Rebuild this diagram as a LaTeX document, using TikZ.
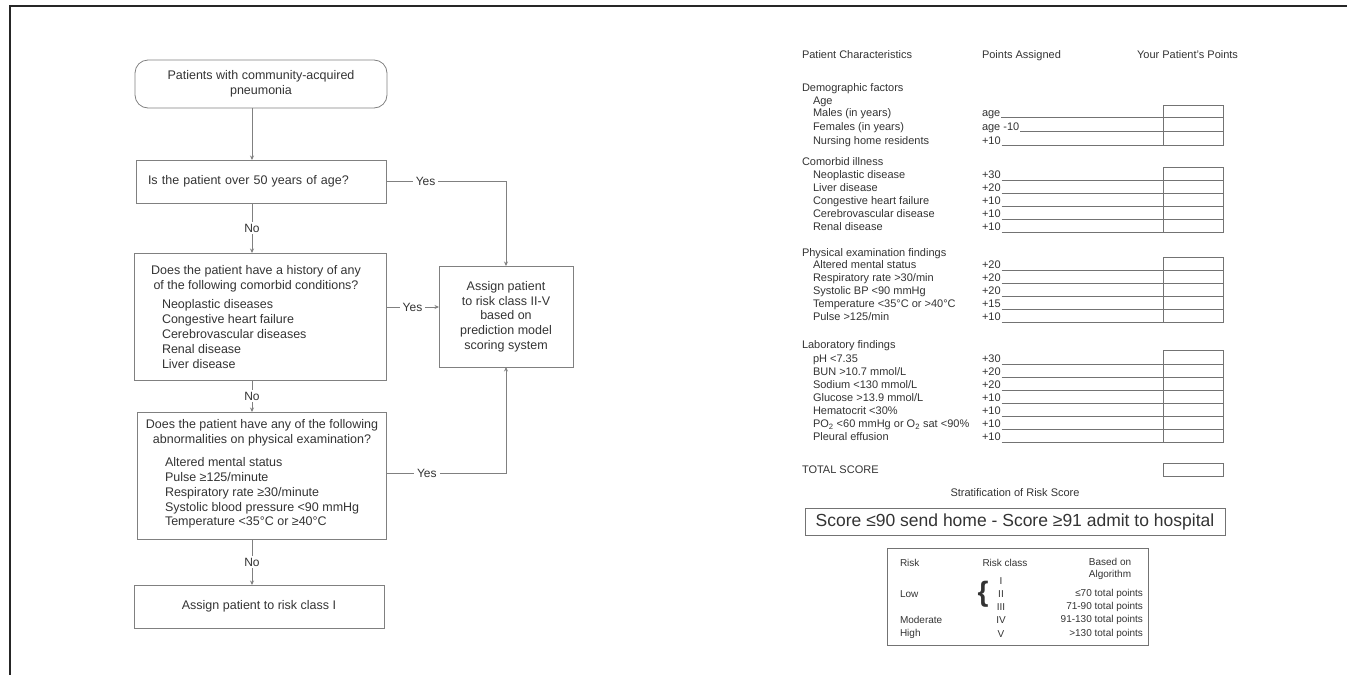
\documentclass[tikz,border=0pt]{standalone}
\usepackage{fontspec}
\setmainfont{Liberation Sans}
\usetikzlibrary{arrows.meta}
\newcommand\psisect[5]{%
  \foreach \lab/\pts [count=\i] in {#5}{%
    \pgfmathsetmacro\yb{#3+(\i-1)*#4}%
    \node[tt,anchor=base west] (#1l\i) at (813,\yb) {\lab};
    \node[tt,anchor=base west] (#1p\i) at (982,\yb) {\pts};
    \draw[tline] ([xshift=1pt,yshift=-1.5pt]#1p\i.base east) -- (1223,\yb+1.5);
    \xdef\lasty{\yb}%
  }%
  \draw[tline] (1163,#2) rectangle (1223,\lasty+1.5);
}
\begin{document}
\begin{tikzpicture}[x=1pt,y=-1pt,
  every node/.style={text=black!80,inner sep=0pt,outer sep=0pt},
  fbox/.style={draw=black!50,line width=0.8pt},
  ft/.style={font=\fontsize{12.5}{14.7}\selectfont},
  lt/.style={font=\fontsize{12.5}{14.8}\selectfont},
  arr/.style={draw=black!50,line width=0.8pt,-{Stealth[length=4.5pt,width=4pt]}},
  lbl/.style={fill=white,inner xsep=3pt,inner ysep=2pt,font=\fontsize{12}{14}\selectfont},
  tt/.style={font=\fontsize{11}{13}\selectfont},
  tline/.style={draw=black!55,line width=0.7pt},
  rt/.style={font=\fontsize{10}{12}\selectfont}]
\useasboundingbox (0,0) rectangle (1347,675);
\draw[line width=1.4pt,black!85] (1347,6) -- (10,6) -- (10,675);

% ---------------- flowchart ----------------
\node[fbox,ft,rounded corners=13pt,minimum width=252pt,minimum height=48pt,align=center] (start) at (261,84)
  {Patients with community-acquired\\pneumonia};
\node[fbox,ft,minimum width=250pt,minimum height=43pt,text width=226pt,inner xsep=12pt,align=left] (q1) at (261,181.5)
  {Is the patient over 50 years of age?};
\node[fbox,minimum width=252pt,minimum height=127pt] (q2) at (260,316.5) {};
\node[ft,align=center] (q2h) at (256,279) {Does the patient have a history of any\\of the following comorbid conditions?};
\node[lt,align=left,anchor=west] (q2l) at (162,334) {Neoplastic diseases\\Congestive heart failure\\Cerebrovascular diseases\\Renal disease\\Liver disease};
\node[fbox,minimum width=249pt,minimum height=127pt] (q3) at (261.5,475.5) {};
\node[ft,align=center] (q3h) at (262,433) {Does the patient have any of the following\\abnormalities on physical examination?};
\node[lt,align=left,anchor=west] (q3l) at (165,493) {Altered mental status\\Pulse ≥125/minute\\Respiratory rate ≥30/minute\\Systolic blood pressure <90 mmHg\\Temperature <35°C or ≥40°C};
\node[fbox,ft,minimum width=250pt,minimum height=43pt] (r1) at (259,606.5) {Assign patient to risk class I};
\node[fbox,ft,minimum width=134pt,minimum height=101pt,align=center] (r2) at (506,316.5)
  {Assign patient\\to risk class II-V\\based on\\prediction model\\scoring system};

\coordinate (vx) at (252,0);
\coordinate (ym) at (0,307);
\coordinate (yb) at (0,473);
\draw[arr] (start.south -| vx) -- (q1.north -| vx);
\draw[arr] (q1.south -| vx) -- node[lbl]{No} (q2.north -| vx);
\draw[arr] (q2.south -| vx) -- node[lbl]{No} (q3.north -| vx);
\draw[arr] (q3.south -| vx) -- node[lbl]{No} (r1.north -| vx);
\draw[arr] (q1.east) -- node[lbl,pos=0.33]{Yes} (q1.east -| r2.north) -- (r2.north);
\draw[arr] (q2.east |- ym) -- node[lbl]{Yes} (r2.west |- ym);
\draw[arr] (q3.east |- yb) -- node[lbl,pos=0.34]{Yes} (r2.south |- yb) -- (r2.south);

% ---------------- score sheet ----------------
\node[tt,anchor=base west] (hc1) at (802,58) {Patient Characteristics};
\node[tt,anchor=base west] (hc2) at (982,58) {Points Assigned};
\node[tt,anchor=base east] (hc3) at (1238,58) {Your Patient's Points};

\node[tt,anchor=base west] (hdem) at (802,91.5) {Demographic factors};
\node[tt,anchor=base west] (age) at (813,104) {Age};
\psisect{d}{105}{116}{14}{{Males (in years)}/age,{Females (in years)}/age -10,{Nursing home residents}/+10}

\node[tt,anchor=base west] (hcom) at (802,165) {Comorbid illness};
\psisect{c}{167}{178.5}{13}{{Neoplastic disease}/+30,{Liver disease}/+20,{Congestive heart failure}/+10,{Cerebrovascular disease}/+10,{Renal disease}/+10}

\node[tt,anchor=base west] (hphy) at (802,256.5) {Physical examination findings};
\psisect{p}{257}{268.5}{13}{{Altered mental status}/+20,{Respiratory rate >30/min}/+20,{Systolic BP <90 mmHg}/+20,{Temperature <35°C or >40°C}/+15,{Pulse >125/min}/+10}

\node[tt,anchor=base west] (hlab) at (802,348.5) {Laboratory findings};
\psisect{l}{350}{362.5}{13}{{pH <7.35}/+30,{BUN >10.7 mmol/L}/+20,{Sodium <130 mmol/L}/+20,{Glucose >13.9 mmol/L}/+10,{Hematocrit <30\%}/+10,{PO\textsubscript{2} <60 mmHg or O\textsubscript{2} sat <90\%}/+10,{Pleural effusion}/+10}

\node[tt,anchor=base west] (tot) at (802,473.5) {TOTAL SCORE};
\draw[tline] (1163,463) rectangle (1223,476);

\node[tt] (strat) at (1015,493) {Stratification of Risk Score};
\node[draw=black!55,line width=0.8pt,minimum width=420pt,minimum height=27pt,font=\fontsize{17.5}{20}\selectfont] (big) at (1015,521.5)
  {Score ≤90 send home - Score ≥91 admit to hospital};

\node[draw=black!55,line width=0.7pt,minimum width=261pt,minimum height=97pt] (risk) at (1017.5,596.5) {};
\node[rt,anchor=west] (rh1) at (900,563) {Risk};
\node[rt] (rh2) at (1005,563) {Risk class};
\node[rt,align=center] (rh3) at (1110,569) {Based on\\Algorithm};
\node[rt,anchor=west] (low) at (900,594) {Low};
\node[rt,anchor=west] (mod) at (900,620) {Moderate};
\node[rt,anchor=west] (high) at (900,634) {High};
\node[font=\fontsize{28}{28}\selectfont\bfseries] (brace) at (983,594) {\{};
\node[rt] (c1) at (1001,581) {I};
\node[rt] (c2) at (1001,594) {II};
\node[rt] (c3) at (1001,607) {III};
\node[rt] (c4) at (1001,620) {IV};
\node[rt] (c5) at (1001,634) {V};
\node[rt,anchor=east] (p2) at (1143,594) {≤70 total points};
\node[rt,anchor=east] (p3) at (1143,607) {71-90 total points};
\node[rt,anchor=east] (p4) at (1143,620) {91-130 total points};
\node[rt,anchor=east] (p5) at (1143,634) {>130 total points};
\end{tikzpicture}
\end{document}
